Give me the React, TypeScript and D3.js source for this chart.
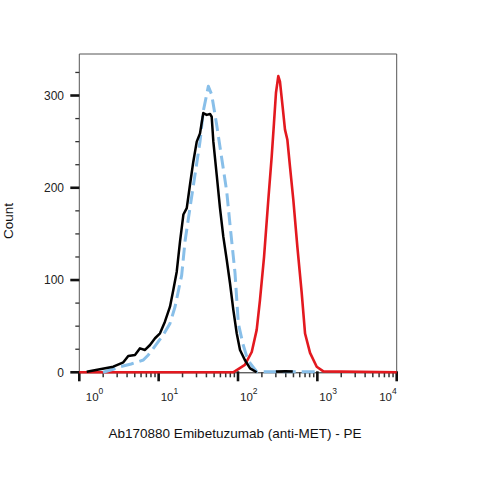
import React from 'react';
import * as d3 from 'd3';

// Fluorescence intensity (PE) and event counts
const redIntensity = [1, 87, 122, 149, 172, 189, 213, 241, 266, 284, 301, 322, 338, 365, 391, 419, 452, 498, 560, 635, 700, 809, 982, 1191, 10000];
const redCount = [0, 0, 8, 22, 46, 78, 125, 187, 234, 270, 303, 321, 315, 288, 263, 252, 223, 187, 136, 86, 42, 21, 6, 1, 0];

const blackIntensity = [1.24, 1.82, 2.68, 3.59, 4.14, 5.03, 5.82, 6.73, 7.78, 9.0, 10.4, 12.0, 13.9, 15.3, 16.9, 18.6, 20.5, 22.6, 24.8, 27.3, 30.2, 33.2, 36.5, 40.3, 44.4, 46.6, 48.9, 53.9, 59.3, 65.3, 72.1, 79.3, 87.3, 96.3, 106, 122, 142, 172, 240, 300, 400, 490];
const blackCount: (number | null)[] = [0.7, 3.3, 6.1, 10.8, 17.7, 18.8, 26, 24.2, 29.6, 36.9, 42.3, 54.9, 71.1, 89.3, 109, 142, 171, 178, 203, 228, 250, 259, 281, 279, 280, 277, 250, 214, 178, 147, 122, 96.5, 67.6, 42.3, 24.2, 13.3, 4.3, 0, null, 0.8, 1.2, 0.8];

const blueIntensity = [1.99, 2.68, 3.26, 4.5, 6.41, 7.41, 8.57, 11.4, 13.9, 16.1, 18.2, 19.5, 21.5, 24.8, 28.7, 33.2, 36.5, 42.3, 46.6, 53.9, 62.3, 72.1, 79.3, 91.6, 101, 115, 129, 142, 172, 960];
const blueCount = [0, 3.3, 6.1, 9, 13.3, 18.8, 26, 40.5, 53, 71, 93, 105, 142, 178, 214, 250, 283, 310, 301, 268, 232, 196, 160, 108, 53, 31, 17, 10, 0.7, 0.7];

const xMajorTicks = [1, 10, 100, 1000, 10000];
const xTickExponents = ['0', '1', '2', '3', '4'];
const yMajorTicks = [0, 100, 200, 300];
const yMinorTicks = [25, 50, 75, 125, 150, 175, 225, 250, 275, 325];

const xTitle = 'Ab170880 Emibetuzumab (anti-MET) - PE';
const yTitle = 'Count';

const font = '"Liberation Sans", Arial, sans-serif';

interface Pt {
  x: number;
  y: number | null;
}

const zip = (xs: number[], ys: (number | null)[]): Pt[] => xs.map((x, i) => ({ x, y: ys[i] }));

const App: React.FC = () => {
  const left = 79.3;
  const right = 396.7;
  const top = 54;
  const bottom = 372.3;

  const xScale = d3.scaleLog().domain([1, 10000]).range([left, right]);
  const yScale = d3.scaleLinear().domain([0, 345]).range([bottom, top]);

  const line = d3
    .line<Pt>()
    .defined((d) => d.y != null)
    .x((d) => xScale(d.x))
    .y((d) => yScale(d.y as number));

  // minor log ticks 2..9 per decade
  const xMinor: number[] = [];
  for (let e = 0; e < 4; e++) {
    for (let m = 2; m <= 9; m++) xMinor.push(m * Math.pow(10, e));
  }

  const red = zip(redIntensity, redCount);
  const black = zip(blackIntensity, blackCount);
  const blue = zip(blueIntensity, blueCount);

  return (
    <svg
      width={479}
      height={479}
      style={{ position: 'absolute', left: 0, top: 0, background: '#fff' }}
      fontFamily={font}
    >
      <rect x={0} y={0} width={479} height={479} fill="#fff" />

      {/* frame */}
      <path
        d={`M${left},${bottom} V${top} H${right} V${bottom}`}
        fill="none"
        stroke="#555"
        strokeWidth={1}
      />
      <line x1={left} x2={right} y1={bottom + 0.5} y2={bottom + 0.5} stroke="#222" strokeWidth={1} />

      {/* y ticks */}
      {yMajorTicks.map((v) => (
        <g key={`ym${v}`}>
          <line x1={left - 9} x2={left} y1={yScale(v)} y2={yScale(v)} stroke="#111" strokeWidth={2.6} />
          <text x={64} y={yScale(v)} dy="0.35em" textAnchor="end" fontSize={12} fill="#222">
            {v}
          </text>
        </g>
      ))}
      {yMinorTicks.map((v) => (
        <line key={`yn${v}`} x1={left - 4} x2={left} y1={yScale(v)} y2={yScale(v)} stroke="#333" strokeWidth={1.3} />
      ))}

      {/* x ticks */}
      {xMinor.map((v) => (
        <line key={`xn${v}`} x1={xScale(v)} x2={xScale(v)} y1={bottom} y2={bottom + 5} stroke="#333" strokeWidth={1.5} />
      ))}
      {xMajorTicks.map((v, i) => {
        const tx = xScale(v);
        const last = i === xMajorTicks.length - 1;
        const dx = i === 0 ? 6.5 : last ? 0 : 2;
        return (
          <g key={`xm${v}`}>
            <line x1={tx} x2={tx} y1={bottom - 1} y2={bottom + 9} stroke="#111" strokeWidth={2.6} />
            <text
              x={tx + dx}
              y={401}
              textAnchor={last ? 'end' : 'start'}
              fontSize={11.5}
              fill="#222"
            >
              10
              <tspan dy={-7} fontSize={8.5}>
                {xTickExponents[i]}
              </tspan>
            </text>
          </g>
        );
      })}

      {/* histograms */}
      <path d={line(red) ?? ''} fill="none" stroke="#e3191f" strokeWidth={2.6} strokeLinejoin="round" />
      <path
        d={line(blue) ?? ''}
        fill="none"
        stroke="#88bfe9"
        strokeWidth={3}
        strokeDasharray="13 6"
        strokeLinejoin="round"
      />
      <path d={line(black) ?? ''} fill="none" stroke="#000" strokeWidth={2.5} strokeLinejoin="round" />

      {/* titles */}
      <text x={235} y={438} textAnchor="middle" fontSize={13.5} fill="#111">
        {xTitle}
      </text>
      <text
        transform="translate(13,221) rotate(-90)"
        textAnchor="middle"
        fontSize={13.5}
        fill="#111"
      >
        {yTitle}
      </text>
    </svg>
  );
};

export default App;
